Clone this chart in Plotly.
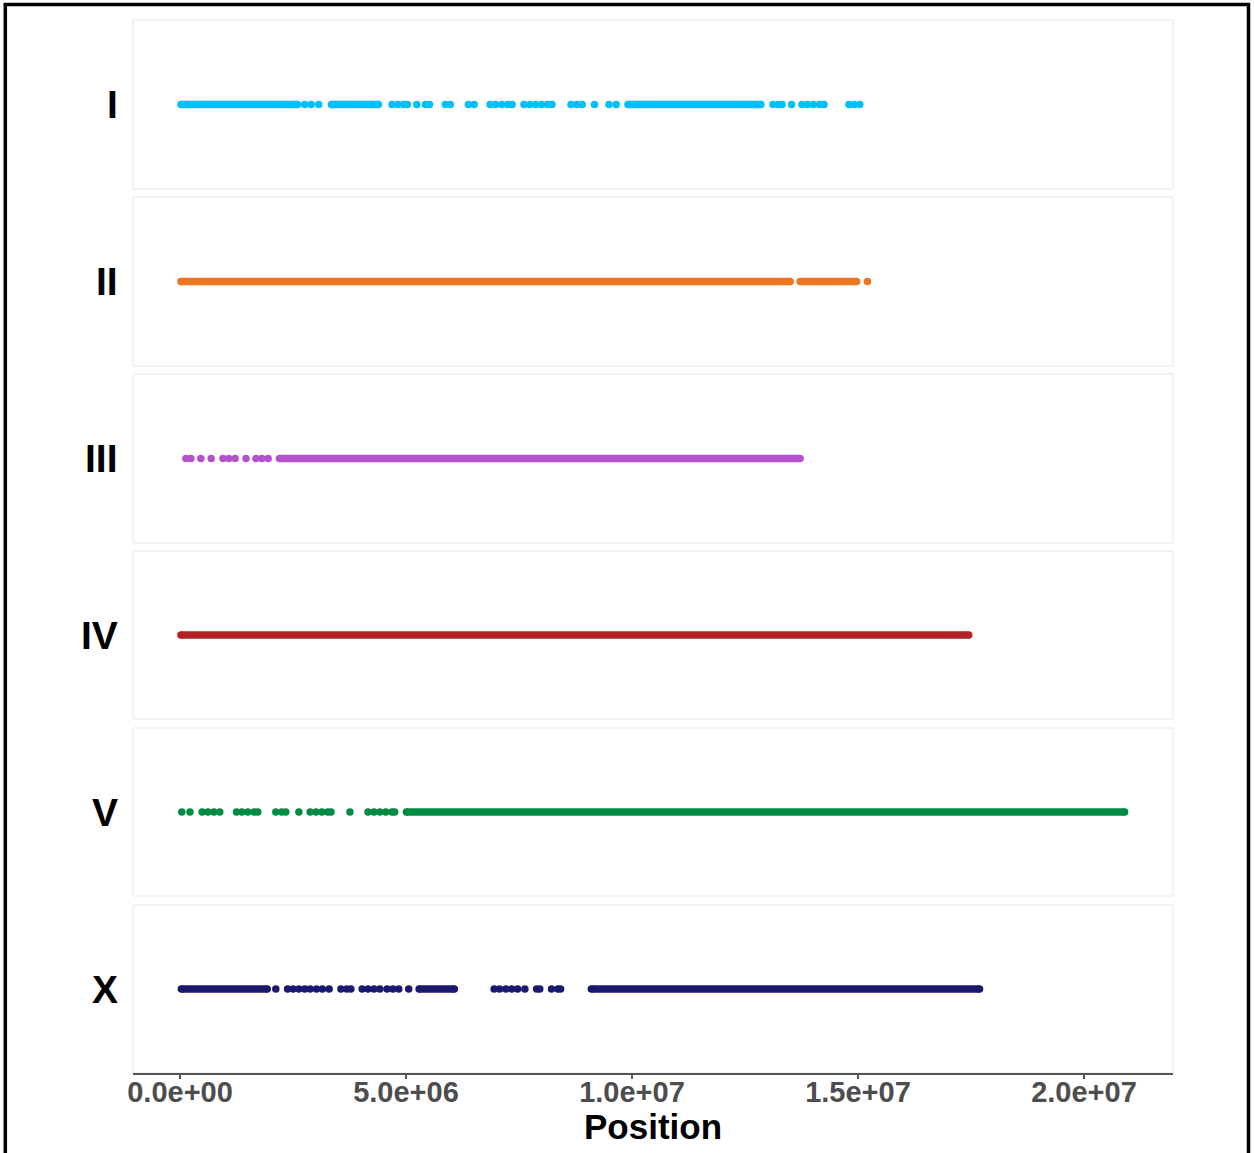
import plotly.graph_objects as go

# ---------------- data (positions in Mb) ----------------
chromosomes = ["I", "II", "III", "IV", "V", "X"]
colors = {
    "I": "#00BFFF",
    "II": "#EE7621",
    "III": "#B452CD",
    "IV": "#B22222",
    "V": "#008B45",
    "X": "#191970",
}

# dense, continuous stretches of variants: [start, end] in Mb
runs_I = [[0.02, 2.60], [3.35, 4.39], [9.91, 12.85]]
runs_II = [[0.02, 13.50], [13.72, 14.97]]
runs_III = [[2.20, 13.72]]
runs_IV = [[0.02, 17.45]]
runs_V = [[5.01, 20.90]]
runs_X = [[0.03, 1.93], [5.29, 6.07], [9.10, 17.69]]

# isolated variant sites in Mb
sites_I = [2.76, 2.90, 3.07, 4.69, 4.82, 4.95, 5.03, 5.24, 5.43, 5.52, 5.87, 5.98,
           6.38, 6.51, 6.86, 6.98, 7.12, 7.25, 7.35, 7.61, 7.74, 7.87, 8.00, 8.13,
           8.23, 8.65, 8.78, 8.90, 9.17, 9.49, 9.65, 13.12, 13.24, 13.32, 13.53,
           13.76, 13.88, 14.01, 14.15, 14.25, 14.80, 14.92, 15.04]
sites_II = [15.21]
sites_III = [0.13, 0.24, 0.46, 0.69, 0.95, 1.08, 1.22, 1.46, 1.68, 1.81, 1.95]
sites_IV = []
sites_V = [0.04, 0.22, 0.49, 0.62, 0.75, 0.88, 1.25, 1.37, 1.50, 1.64, 1.72,
           2.12, 2.25, 2.34, 2.63, 2.88, 3.01, 3.14, 3.27, 3.34, 3.76,
           4.16, 4.29, 4.42, 4.55, 4.69, 4.75]
sites_X = [2.12, 2.38, 2.50, 2.63, 2.76, 2.88, 3.02, 3.15, 3.30, 3.56, 3.69, 3.78,
           4.03, 4.16, 4.29, 4.42, 4.58, 4.71, 4.84, 5.06, 6.95, 7.07, 7.21,
           7.34, 7.47, 7.63, 7.89, 7.96, 8.22, 8.36, 8.42]

runs = {"I": runs_I, "II": runs_II, "III": runs_III, "IV": runs_IV, "V": runs_V, "X": runs_X}
sites = {"I": sites_I, "II": sites_II, "III": sites_III, "IV": sites_IV, "V": sites_V, "X": sites_X}

tick_vals = [0, 5e6, 1e7, 1.5e7, 2e7]
tick_text = ["0.0e+00", "5.0e+06", "1.0e+07", "1.5e+07", "2.0e+07"]

MB = 1e6

# ---------------- layout geometry ----------------
W, H = 1254, 1153
panel_left, panel_right = 133, 1173
panel_px = [(20, 189), (197, 366), (374, 543), (551, 719), (728, 896), (905, 1073)]
xrange_ = [-1.04e6, 2.197e7]
FONT = "Liberation Sans, Arial, Helvetica, sans-serif"
MSIZE = 7.5

fig = go.Figure()
layout = dict(
    width=W, height=H,
    margin=dict(l=0, r=0, t=0, b=0, autoexpand=False),
    paper_bgcolor="white", plot_bgcolor="white",
    showlegend=False,
    font=dict(family=FONT),
)
shapes = []
annotations = []
xdom = [panel_left / W, panel_right / W]

for i, chrom in enumerate(chromosomes):
    n = i + 1
    xa = "x" if n == 1 else f"x{n}"
    ya = "y" if n == 1 else f"y{n}"
    xkey = "xaxis" if n == 1 else f"xaxis{n}"
    ykey = "yaxis" if n == 1 else f"yaxis{n}"
    top, bot = panel_px[i]
    ydom = [1 - bot / H, 1 - top / H]
    col = colors[chrom]

    # dense stretches
    rx, ry = [], []
    for s, e in runs[chrom]:
        rx += [s * MB, e * MB, None]
        ry += [0, 0, None]
    if rx:
        fig.add_trace(go.Scatter(
            x=rx, y=ry, xaxis=xa, yaxis=ya, mode="lines+markers",
            line=dict(color=col, width=MSIZE),
            marker=dict(color=col, size=MSIZE, line=dict(width=0)),
            hoverinfo="skip"))
    # isolated sites
    if sites[chrom]:
        fig.add_trace(go.Scatter(
            x=[v * MB for v in sites[chrom]], y=[0] * len(sites[chrom]),
            xaxis=xa, yaxis=ya, mode="markers",
            marker=dict(color=col, size=MSIZE, line=dict(width=0)),
            hoverinfo="skip"))

    last = (n == len(chromosomes))
    xcfg = dict(domain=xdom, range=xrange_, anchor=ya, showgrid=False, zeroline=False,
                fixedrange=True, automargin=False)
    if n != 1:
        xcfg["matches"] = "x"
    if last:
        xcfg.update(showline=True, linecolor="#555555", linewidth=1.5,
                    ticks="outside", ticklen=4, tickwidth=1.5, tickcolor="#555555",
                    tickvals=tick_vals, ticktext=tick_text, ticklabelstandoff=-12,
                    tickfont=dict(family=FONT, size=29, color="#4D4D4D", weight="bold"))
    else:
        xcfg.update(showticklabels=False, showline=False, ticks="")
    layout[xkey] = xcfg
    layout[ykey] = dict(domain=ydom, range=[-1, 1], anchor=xa, showgrid=False,
                        zeroline=False, showticklabels=False, ticks="", fixedrange=True,
                        automargin=False)

    # panel border
    shapes.append(dict(type="rect", xref="paper", yref="paper",
                       x0=xdom[0], x1=xdom[1], y0=ydom[0], y1=ydom[1],
                       line=dict(color="#E6E6E6", width=1), layer="below"))
    # row label
    annotations.append(dict(text=chrom, xref="paper", yref="paper",
                            x=120 / W, y=1 - ((top + bot) / 2) / H,
                            xanchor="right", yanchor="middle", showarrow=False,
                            font=dict(family=FONT, size=39, color="black", weight="bold")))

# axis title
annotations.append(dict(text="Position", xref="paper", yref="paper",
                        x=(panel_left + panel_right) / 2 / W, y=1 - 1126 / H,
                        xanchor="center", yanchor="middle", showarrow=False,
                        font=dict(family=FONT, size=35, color="black", weight="bold")))

# outer black frame
shapes.append(dict(type="rect", xref="paper", yref="paper",
                   x0=5.3 / W, x1=1248.5 / W, y0=-0.05, y1=1 - 4.4 / H,
                   line=dict(color="black", width=3.5), layer="above"))

layout["shapes"] = shapes
layout["annotations"] = annotations
fig.update_layout(**layout)
fig.write_html("out.html")
